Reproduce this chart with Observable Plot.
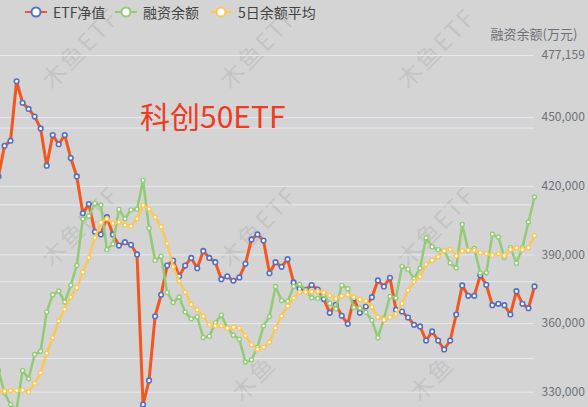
<!DOCTYPE html>
<html>
<head>
<meta charset="utf-8">
<script src="https://cdn.jsdelivr.net/npm/d3@7"></script>
<script src="https://cdn.jsdelivr.net/npm/@observablehq/plot@0.6"></script>
<style>
  html, body { margin: 0; padding: 0; background: #d4d4d4; }
  #wrap { position: relative; width: 588px; height: 407px; overflow: hidden; background: #d4d4d4;
          font-family: "Noto Sans CJK SC", "Noto Sans", sans-serif; }
  #chart { position: absolute; left: -2px; top: 0; }
  #wm { position: absolute; left: 0; top: 0; }
  #legend { position: absolute; top: 2px; left: 0; height: 20px; font-size: 14px; color: #444; }
  .item { position: absolute; top: 0; display: flex; align-items: center; height: 20px; white-space: nowrap; }
  .item svg { margin-right: 6px; flex: none; }
  #ylabel { position: absolute; left: 534px; top: 24px; transform: translateX(-50%); font-size: 13px; color: #6e7079; white-space: nowrap; }
  #title { position: absolute; left: 140px; top: 93px; font-size: 30px; color: #ee3b24; white-space: nowrap; }
</style>
</head>
<body>
<div id="wrap">
  <svg id="wm" width="588" height="407" font-family="Noto Sans CJK SC, sans-serif" font-size="24" fill="rgba(110,110,110,0.17)" text-anchor="middle" dominant-baseline="middle" letter-spacing="2">
    <text transform="translate(82,50) rotate(-46)">木鱼ETF</text>
    <text transform="translate(260,50) rotate(-46)">木鱼ETF</text>
    <text transform="translate(438,50) rotate(-46)">木鱼ETF</text>
    <text transform="translate(82,228) rotate(-46)">木鱼ETF</text>
    <text transform="translate(260,228) rotate(-46)">木鱼ETF</text>
    <text transform="translate(438,228) rotate(-46)">木鱼ETF</text>
    <text transform="translate(255,380) rotate(-46)">木鱼</text>
    <text transform="translate(433,380) rotate(-46)">木鱼</text>
  </svg>
  <div id="chart"></div>
  <div id="legend"></div>
  <div id="ylabel">融资余额(万元)</div>
  <div id="title">科创50ETF</div>
</div>
<script>
// ---- data ----
const seriesNames = ["ETF净值", "融资余额", "5日余额平均"];

const etfNav = [
  1.337,1.377,1.3835,1.461,1.433,1.425,1.415,1.3995,1.351,1.391,
  1.379,1.391,1.361,1.337,1.289,1.301,1.265,1.2615,1.284,1.2615,
  1.247,1.2515,1.248,1.2355,1.040,1.0715,1.155,1.183,1.221,1.2276,
  1.207,1.221,1.231,1.2176,1.240,1.231,1.2254,1.2033,1.207,1.2012,
  1.2055,1.2233,1.255,1.2615,1.2536,1.211,1.2254,1.2194,1.2293,1.199,
  1.1908,1.1895,1.1957,1.1898,1.1775,1.1595,1.170,1.1556,1.1452,1.1781,
  1.1595,1.1677,1.1798,1.2016,1.1938,1.2051,1.1634,1.1612,1.1534,1.1439,
  1.1417,1.1234,1.1352,1.1234,1.1117,1.1234,1.1573,1.1951,1.1816,1.1816,
  1.2085,1.196,1.1694,1.1712,1.1694,1.1573,1.1876,1.1712,1.1655,1.1938
];

const marginBalance = [
  339500,329600,324600,322400,339500,335900,346500,347900,365000,372600,
  374200,369400,376700,385400,405700,407000,412500,411800,392300,394800,
  409900,405800,409700,410000,422600,401700,387600,389400,373600,369200,
  371600,365000,362100,362900,353900,354400,360300,363700,358100,354900,
  353100,343200,344200,349600,359000,363100,376200,370100,369700,376200,
  377200,374500,371300,371000,372700,368800,366400,376700,375200,367000,
  366800,364900,361400,353800,362200,371900,371200,385000,383700,379600,
  384200,397500,393600,392300,392000,386500,384300,403300,391800,392800,
  382100,382200,399000,397800,388900,393200,386400,393200,404400,415300
];

const avg5Balance = [
  330300,330400,330600,330700,330800,330100,333900,338500,347000,353800,
  361100,366300,371600,375700,382400,388900,397500,404200,405800,403800,
  404300,403100,402500,405800,411700,410100,406500,402300,395000,384800,
  378500,373700,368300,366000,363200,359600,359000,359000,358000,358400,
  358000,354800,350700,348700,349600,351800,358100,363300,367700,371100,
  373700,373700,373900,374000,373600,372300,370900,371900,372600,371600,
  370500,369900,367200,362800,361700,362800,364100,368700,374600,378300,
  380500,385800,387600,389200,391800,392400,389600,391700,392000,392000,
  390900,390500,389800,390500,389700,392300,393000,392300,393200,398400
];

// right axis (融资余额, 万元)
const balanceTicks = [330000, 360000, 390000, 420000, 450000, 477159];
const balanceDomain = [323310, 477159];
// hidden left axis (ETF净值)
const etfTicks = [1.1, 1.2, 1.3, 1.4];
const etfDomain = [1.0362, 1.4945];

const colors = { etfLine: "#f4561f", etfDot: "#5470c6", bal: "#91cc75", avg: "#fac858" };

// ---- build table ----
const rows = etfNav.map((v, i) => ({ i, etf: v, bal: marginBalance[i], avg: avg5Balance[i] }));
// map ETF axis onto the same pixel range as the balance axis
const etfToBal = d3.scaleLinear().domain(etfDomain).range(balanceDomain);

const chart = Plot.plot({
  width: 590,
  height: 407,
  marginTop: 55,
  marginBottom: 0,
  marginLeft: 0,
  marginRight: 54,
  style: { background: "transparent", maxWidth: "none", overflow: "visible",
           fontFamily: "'Noto Sans CJK SC', 'Noto Sans', sans-serif" },
  x: { domain: [0, rows.length - 1], axis: null },
  y: { domain: balanceDomain, axis: null },
  marks: [
    Plot.ruleY(balanceTicks, { stroke: "#e6e9f1", strokeWidth: 1 }),
    Plot.ruleY(etfTicks, { y: d => etfToBal(d), stroke: "#e6e9f1", strokeWidth: 1 }),
    Plot.axisY(balanceTicks, { anchor: "right", tickSize: 0, tickPadding: 7, tickFormat: d3.format(","),
                               fontSize: 12, color: "#6e7079", label: null }),
    Plot.line(rows, { x: "i", y: d => etfToBal(d.etf), stroke: colors.etfLine, strokeWidth: 3 }),
    Plot.dot(rows, { x: "i", y: d => etfToBal(d.etf), r: 2.3, fill: "white", stroke: colors.etfDot, strokeWidth: 1.6 }),
    Plot.line(rows, { x: "i", y: "bal", stroke: colors.bal, strokeWidth: 2.5 }),
    Plot.dot(rows, { x: "i", y: "bal", r: 2, fill: "white", stroke: colors.bal, strokeWidth: 1.4 }),
    Plot.line(rows, { x: "i", y: "avg", stroke: colors.avg, strokeWidth: 2.5 }),
    Plot.dot(rows, { x: "i", y: "avg", r: 2, fill: "white", stroke: colors.avg, strokeWidth: 1.4 })
  ]
});
document.getElementById("chart").appendChild(chart);

// ---- legend ----
const legendItems = [
  { name: seriesNames[0], line: colors.etfLine, dot: colors.etfDot, left: 25 },
  { name: seriesNames[1], line: colors.bal, dot: colors.bal, left: 115 },
  { name: seriesNames[2], line: colors.avg, dot: colors.avg, left: 210 }
];
const legend = document.getElementById("legend");
for (const it of legendItems) {
  const d = document.createElement("div");
  d.className = "item";
  d.style.left = it.left + "px";
  d.innerHTML = `<svg width="22" height="14"><line x1="0" x2="22" y1="7" y2="7" stroke="${it.line}" stroke-width="2"/>` +
    `<circle cx="11" cy="7" r="4.5" fill="white" stroke="${it.dot}" stroke-width="2"/></svg><span>${it.name}</span>`;
  legend.appendChild(d);
}
</script>
</body>
</html>
